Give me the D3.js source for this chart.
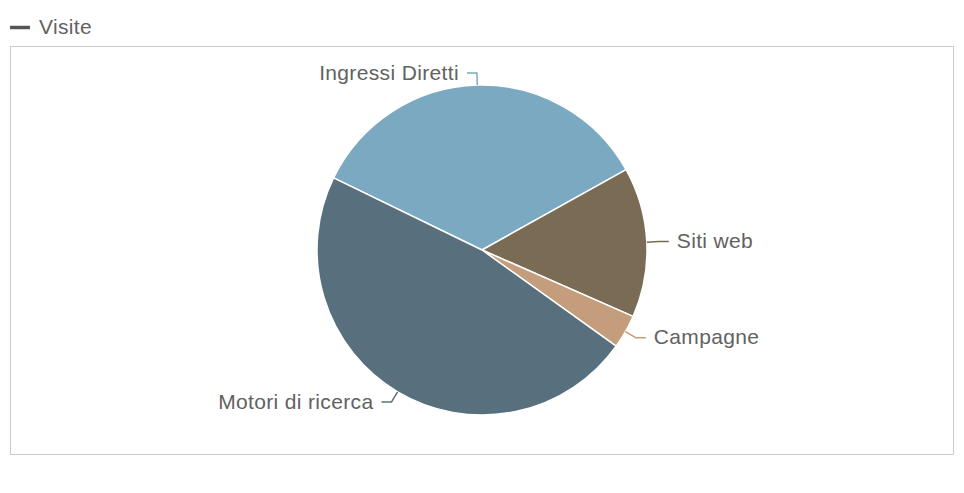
<!DOCTYPE html>
<html lang="it">
<head>
  <meta charset="UTF-8">
  <title>Visite</title>
  <script src="https://d3js.org/d3.v7.min.js"></script>
  <style>
    body { margin: 0; background: #fff; }
    svg { display: block; }
    text { font-family: "Liberation Sans", Arial, sans-serif; fill: #626262; letter-spacing: 0.35px; }
  </style>
</head>
<body>
  <svg width="964" height="493"></svg>

  <script>
    // data
    const seriesName = "Visite";
    const categories = ["Ingressi Diretti", "Siti web", "Campagne", "Motori di ricerca"];
    const values = [34.7, 14.7, 3.3, 47.3];
    const colors = ["#7ba9c1", "#7a6c54", "#c49e7c", "#58707e"];

    const svg = d3.select("svg");
    const cx = 482, cy = 250, r = 165;
    const labelR = 177;

    // plot border
    svg.append("rect")
      .attr("x", 10.5).attr("y", 46.5)
      .attr("width", 943).attr("height", 408)
      .attr("fill", "none")
      .attr("stroke", "#cccccc");

    // legend
    svg.append("line")
      .attr("x1", 10).attr("x2", 30)
      .attr("y1", 27.5).attr("y2", 27.5)
      .attr("stroke", "#555")
      .attr("stroke-width", 3.5);
    svg.append("text")
      .attr("x", 39).attr("y", 28)
      .attr("dominant-baseline", "middle")
      .style("font-size", "21px")
      .text(seriesName);

    const start = -64.1 * Math.PI / 180;
    const pie = d3.pie().sort(null).startAngle(start).endAngle(start + 2 * Math.PI);
    const arcs = pie(values);
    const arc = d3.arc().innerRadius(0).outerRadius(r);

    const g = svg.append("g").attr("transform", `translate(${cx},${cy})`);

    g.selectAll("path.slice")
      .data(arcs)
      .enter().append("path")
      .attr("class", "slice")
      .attr("d", arc)
      .attr("fill", (d, i) => colors[i])
      .attr("stroke", "#fff")
      .attr("stroke-width", 1.5)
      .attr("stroke-linejoin", "round");

    // labels with connectors
    arcs.forEach((d, i) => {
      const a = (d.startAngle + d.endAngle) / 2;
      const sx = Math.sin(a), sy = -Math.cos(a);
      const side = sx < 0 ? -1 : 1;
      const p0 = [r * sx, r * sy];
      const p1 = [(r + 8) * sx, (r + 8) * sy];
      const ly = labelR * sy;
      let lx = side * Math.sqrt(Math.max(0, labelR * labelR - ly * ly));
      lx = side < 0 ? Math.min(lx, p1[0]) : Math.max(lx, p1[0]);

      g.append("path")
        .attr("d", d3.line()([p0, p1, [lx, ly], [lx + side * 10, ly]]))
        .attr("fill", "none")
        .attr("stroke", colors[i])
        .attr("stroke-width", 1.5);

      g.append("text")
        .attr("x", lx + side * 18)
        .attr("y", ly + 1)
        .attr("dominant-baseline", "middle")
        .attr("text-anchor", side < 0 ? "end" : "start")
        .style("font-size", "21px")
        .text(categories[i]);
    });
  </script>
</body>
</html>
